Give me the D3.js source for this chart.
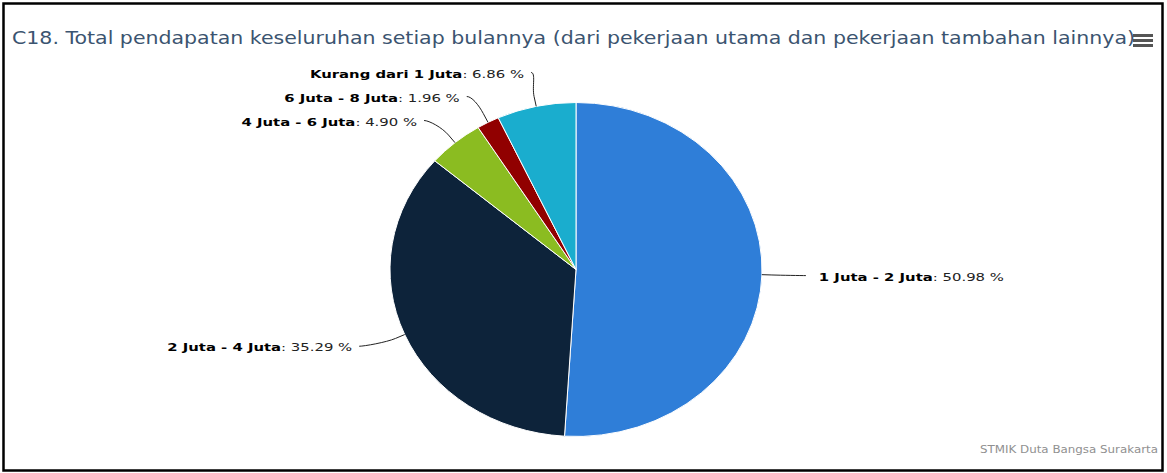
<!DOCTYPE html>
<html><head><meta charset="utf-8">
<script src="https://cdn.jsdelivr.net/npm/d3@7"></script>
<style>body{margin:0;background:#fff;} svg{display:block;font-family:"DejaVu Sans",Verdana,sans-serif;}</style>
</head><body><svg id="c" width="1167" height="473"></svg>
<script>
const categories = ["1 Juta - 2 Juta", "2 Juta - 4 Juta", "4 Juta - 6 Juta", "6 Juta - 8 Juta", "Kurang dari 1 Juta"];
const percentages = [50.98, 35.29, 4.90, 1.96, 6.86];
const colors = ["#2f7ed8", "#0d233a", "#8bbc21", "#910000", "#1aadce"];
const titleText = "C18. Total pendapatan keseluruhan setiap bulannya (dari pekerjaan utama dan pekerjaan tambahan lainnya)";
const creditText = "STMIK Duta Bangsa Surakarta";

const svg = d3.select("#c");
// frame
svg.append("rect").attr("x", 3.5).attr("y", 3.5).attr("width", 1159).attr("height", 467)
  .attr("fill", "#fff").attr("stroke", "#000").attr("stroke-width", 2.5);

// title
svg.append("text").attr("x", 12).attr("y", 44).attr("font-size", 17).attr("fill", "#3b5470")
  .attr("textLength", 1123).attr("lengthAdjust", "spacingAndGlyphs").text(titleText);

// menu icon
[0, 1, 2].forEach(i => svg.append("rect").attr("x", 1133).attr("y", 34 + i * 5).attr("width", 20).attr("height", 3)
  .attr("fill", "#555"));

// credits
svg.append("text").attr("x", 1158).attr("y", 453).attr("text-anchor", "end").attr("font-size", 10)
  .attr("fill", "#909090").attr("textLength", 178).attr("lengthAdjust", "spacingAndGlyphs").text(creditText);

// pie
const cx = 576, cy = 269.5, ry = 167, rx = 186;
const data = categories.map((c, i) => ({name: c, v: percentages[i], color: colors[i]}));
const pie = d3.pie().sort(null).value(d => d.v);
const arcs = pie(data);
const arc = d3.arc().innerRadius(0).outerRadius(ry);
const g = svg.append("g").attr("transform", `translate(${cx},${cy}) scale(${rx / ry},1)`);
g.selectAll("path").data(arcs).join("path")
  .attr("d", arc).attr("fill", d => d.data.color)
  .attr("stroke", "#fff").attr("stroke-width", 1).attr("vector-effect", "non-scaling-stroke");

// data labels (Highcharts-like placement)
const dist = 30, labR = ry + dist, labRx = 243, gap = 24;
const items = arcs.map(a => {
  const m = (a.startAngle + a.endAngle) / 2;
  const s = Math.sin(m), c = Math.cos(m);
  return {a, s, c, right: s > 0,
    ex: cx + rx * s, ey: cy - ry * c,
    bx: cx + (rx + 10) * s, by: cy - (ry + 10) * c,
    natY: cy - labR * c, y: cy - labR * c};
});
["left", "right"].forEach(side => {
  const list = items.filter(d => (side === "right") === d.right).sort((p, q) => p.y - q.y);
  for (let i = list.length - 2; i >= 0; i--) list[i].y = Math.min(list[i].y, list[i + 1].y - gap);
  const minY = cy - labR;
  if (list.length && list[0].y < minY) {
    list[0].y = minY;
    for (let i = 1; i < list.length; i++) list[i].y = Math.max(list[i].y, list[i - 1].y + gap);
  }
});
items.forEach(d => {
  let r = (d.y - cy) / labR;
  if (Math.abs(r) >= 0.999) r = (d.natY - cy) / labR;
  const dx = labRx * Math.sqrt(Math.max(0, 1 - r * r));
  d.tx = d.right ? cx + dx : cx - dx;
  d.lx = d.right ? d.tx - 13 : d.tx + 7;
});

const lab = svg.append("g");
lab.selectAll("path").data(items).join("path")
  .attr("fill", "none").attr("stroke", "#222").attr("stroke-width", 1)
  .attr("d", d => {
    const x0 = d.right ? d.lx - 0 : d.lx;
    return `M${x0},${d.y} C${x0 + (d.right ? -5 : 5)},${d.y} ${2 * d.bx - d.ex},${2 * d.by - d.ey} ${d.bx},${d.by} L${d.ex},${d.ey}`;
  });
const texts = lab.selectAll("text").data(items).join("text")
  .attr("x", d => d.tx).attr("y", d => d.y + 2)
  .attr("dominant-baseline", "middle")
  .attr("text-anchor", d => d.right ? "start" : "end")
  .attr("font-size", 11).attr("fill", "#000");
texts.append("tspan").attr("font-weight", "bold").text(d => d.a.data.name);
texts.append("tspan").attr("fill", "#222").text(d => ": " + d.a.data.v.toFixed(2) + " %");
// stretch label widths to match
const refNode = texts.nodes()[0];
const k = 185 / refNode.getComputedTextLength();
texts.each(function () {
  const w = this.getComputedTextLength();
  d3.select(this).attr("textLength", w * k).attr("lengthAdjust", "spacingAndGlyphs");
});
</script></body></html>
